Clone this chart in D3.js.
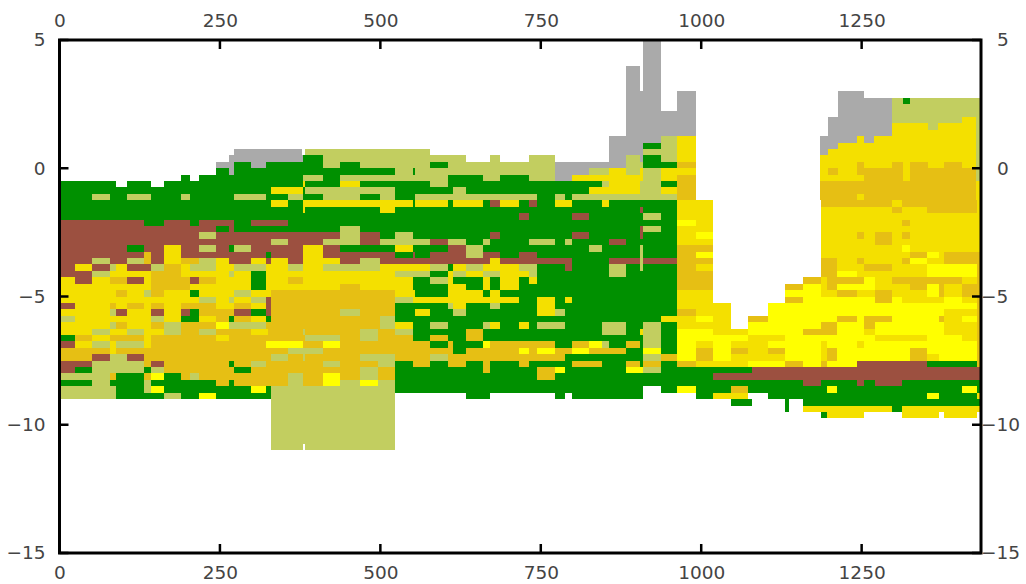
<!DOCTYPE html>
<html>
<head>
<meta charset="utf-8">
<script src="https://cdn.jsdelivr.net/npm/d3@7"></script>
<style>
  html, body { margin: 0; padding: 0; background: #fff; }
</style>
</head>
<body>
<div id="chart-area"></div>
<script>
// chart values
var xDomain = [0, 1436];
var yDomain = [-15, 5];
var xTicks = [0, 250, 500, 750, 1000, 1250];
var yTicks = [5, 0, -5, -10, -15];
var binWidth = 6.78;   // x units per bin
var rowHeight = 0.25;  // y units per row, row 0 starts at y = 5

var categories = ["G", "B", "K", "Y", "D", "L", "A"];
var categoryColors = ["#009000", "#9c5040", "#c2ce60", "#f4e000", "#e6bf14", "#ffff00", "#aaaaaa"];

// rows: [first row, last row, runs], a run is category + start bin, "." is a gap
var gridRows = [
  [0, 3, "A134.2 .138.3"],
  [4, 7, "A130.2 .133.4 A134.2 .138.3"],
  [8, 10, "A130.2 .138.3 A141.9 .146.3"],
  [11, 14, "A130.2 .146.3"],
  [15, 15, "A126.2 K138.3 Y141.9 .146.3"],
  [16, 16, "A126.2 G134.2 K138.3 Y141.9 .146.3"],
  [17, 17, "A40 .55.8 K56.5 .85.2 A126.2 K134.2 Y141.9 .146.3"],
  [18, 18, "A39 G56 K60.5 .93.4 K99 .101.3 K107.8 .113.8 A126.2 K130.2 A133.4 G134.2 K138.3 Y141.9 .146.3"],
  [19, 19, "A36 G40 A44 G47.5 K60.5 G64.5 K69 G85.2 K89.3 A113.8 K130.2 G134.2 D141.9 .146.3"],
  [20, 20, "G36 A39 G40 K77.2 G81.2 K81.7 A113.8 K121.8 Y126.3 K130.2 Y133.5 K134.2 Y138.3 .146.3"],
  [21, 21, "G28 .30 G32 K56 G60.5 K64.5 G89.3 K97.3 G101.3 K107.8 A113.8 Y117.8 K134.2 Y138.3 D141.9 .146.3"],
  [22, 22, "G0 .13 G15.5 .21 G24 Y56 G56.5 Y64.5 G69 K85.2 G89.3 K124.7 Y126.3 K133.5 G138.3 D141.9 .146.3"],
  [23, 23, "G0 Y48.5 G56 K56.5 G77.2 K90.4 G93.4 Y121.8 K133.5 Y138.3 D141.9 .146.3"],
  [24, 24, "G0 K7.5 G11.5 K15.5 G21 K28 G30 K40 G47.5 K52.5 G56 K60.5 G69 K73.7 G77.2 K81.7 G109.7 K113.8 G116.2 K117.8 D141.9 .146.3"],
  [25, 25, "G0 Y48.5 G52.5 Y56 G81.2 Y81.7 G89.3 Y90.4 G97.3 B99 Y101.3 G105.7 B107.8 G109.7 Y113.8 G117.8 Y124.7 G126.3 Y141.9 .146.3"],
  [26, 26, "G0 Y56 G56.5 Y73.7 G77.2 B133.5 G134.2 Y141.9 .146.3"],
  [27, 27, "G0 B105.7 G107.8 B117.8 G121.8 K134.2 G138.3 Y141.9 .146.3"],
  [28, 28, "B0 G19.5 B24 G30 B32 G40 B44 G52.5 L141.9 .146.3"],
  [29, 29, "B0 G36 B39 G40 K64.5 G69 B133.5 K134.2 G138.3 Y141.9 .146.3"],
  [30, 30, "B0 K32 B36 K64.5 B69 G73.7 K77.2 G81.2 B99 G101.3 B117.8 G121.8 B133.5 G134.2 Y141.9 .146.3"],
  [31, 31, "B0 K48.5 B52.5 K60.5 B69 K73.7 B85.2 K89.3 G93.4 K97.3 G99 K107.8 G113.8 K116.2 G117.8 B126.3 G130.3 Y141.9 .146.3"],
  [32, 32, "B0 G15.5 B19.5 Y24 B28 K32 B36 G39 K40 B44 Y56 B60.5 G64.5 Y77.2 G81.2 B89.3 K93.4 G97.3 K121.8 G124.7 K133.5 G134.2 D141.9 .146.3"],
  [33, 33, "B0 D19.5 B21 Y24 B28 G47.5 B48.5 Y56 B60.5 G77.2 B81.2 G81.7 B85.2 K93.4 B97.3 G101.3 B105.7 G109.7 K133.5 G134.2 D141.9 .146.3"],
  [34, 34, "B0 K7.5 B11.5 K15.5 D19.5 B21 Y24 D28 K32 Y36 B39 Y44 B47.5 Y48.5 B52.5 Y56 B64.5 K69 B73.7 Y99 B101.3 G117.8 B126.3 K133.5 B134.2 D141.9 .146.3"],
  [35, 35, "B0 Y3.5 B7.5 K11.5 Y13 B15.5 K21 D24 Y28 K30 Y36 K40 Y47.5 K52.5 Y56 K60.5 Y73.7 K85.2 G89.3 Y90.4 K93.4 Y97.3 K105.7 G109.7 B116.2 G117.8 K126.3 G130.3 K133.5 G134.2 D141.9 .146.3"],
  [36, 36, "B0 K7.5 Y11.5 D21 Y28 K39 Y40 G44 Y47.5 K77.2 G85.2 Y89.3 K90.4 Y93.4 K97.3 Y101.3 K107.8 G109.7 K126.3 G130.3 D141.9 .146.3"],
  [37, 37, "Y0 B3.5 Y7.5 D11.5 B15.5 Y19.5 D21 B30 D32 Y36 G44 Y47.5 D52.5 Y56 G81.2 K85.2 Y89.3 G90.4 Y97.3 G99 Y101.3 G105.7 Y107.8 G109.7 D141.9 .146.3"],
  [38, 38, "Y0 D21 Y30 G44 Y47.5 D64.5 Y69 G81.2 Y89.3 G93.4 Y97.3 G99 Y101.3 G105.7 D141.9 .146.3"],
  [39, 39, "Y0 D13 Y15.5 K19.5 D21 Y24 G30 Y32 K40 Y44 D48.5 Y77.2 G81.7 Y89.3 G97.3 Y99 G101.3 Y141.9 .146.3"],
  [40, 40, "Y0 K32 Y36 K39 Y40 K44 B47.5 D48.5 K77.2 Y81.2 G105.7 Y109.7 G113.8 Y116.2 G117.8 Y141.9 .146.3"],
  [41, 41, "B0 Y3.5 D11.5 Y13 D15.5 Y19.5 D21 Y24 D28 Y36 D40 Y44 B47.5 D48.5 G77.2 K89.3 Y90.4 G93.4 K99 G101.3 Y109.7 G113.8 Y141.9 .146.3"],
  [42, 42, "Y0 K11.5 B13 Y15.5 B21 Y24 B28 G30 D32 B40 G44 B47.5 D48.5 K64.5 D69 G77.2 Y81.7 G85.2 K90.4 G93.4 Y109.7 K113.8 G116.2 D141.9 .146.3"],
  [43, 43, "K0 Y3.5 K21 Y24 G28 Y32 D36 G39 D40 Y44 G47.5 D48.5 K73.7 G77.2 Y138.3 .146.3"],
  [44, 44, "Y0 K11.5 D13 Y15.5 D21 K24 D28 L36 K39 D47.5 K73.7 Y77.2 G81.2 K85.2 G89.3 K97.3 Y99 G101.3 Y105.7 G107.8 K109.7 G116.2 K124.7 G130.3 K134.2 G138.3 Y141.9 .146.3"],
  [45, 45, "Y0 K7.5 Y11.5 K15.5 Y19.5 K24 D28 K32 D36 Y44 D48 K56 D56.5 K69 D73.3 K77.2 G81.2 D93.4 G97.3 K124.7 G130.3 Y133.5 K134.2 G138.3 L141.9 .146.3"],
  [46, 46, "G0 D3.5 Y7.5 D11.5 Y19.5 D21 Y36 D39 K56.5 D64.5 K69 D73.3 G81.2 D85.2 G89.3 D93.4 G97.3 K134.2 G138.3 L141.9 .146.3"],
  [47, 47, "B0 Y3.5 K7.5 Y11.5 K13 Y19.5 D21 L47.5 D56 L60.5 D64.5 G85.2 D89.3 G90.4 L97.3 D99 G113.8 D117.8 L121.8 K124.7 G126.3 D130.3 G133.5 K134.2 G138.3 L141.9 .146.3"],
  [48, 48, "D0 Y11.5 D13 K52.5 D60.5 G90.4 D93.4 L105.7 D107.8 L109.7 D113.8 L117.8 D121.8 G130.3 L134.2 G138.3 L141.9 .146.3"],
  [49, 49, "D0 B7.5 K11.5 B15.5 D19.5 K48.5 D52.5 K56 D56.5 K69 D77.2 K85.2 D89.3 G116.2 K134.2 D138.3 L141.9 .146.3"],
  [50, 50, "B0 K7.5 D19.5 B21 D24 G39 D40 K44 D47.5 K60.5 D64.5 K73.3 G77.2 D81.2 G85.2 D89.3 G93.4 D97.3 G99 D105.7 G107.8 D117.8 G124.7 D130.3 G133.5 D134.2 G138.3 D141.9 .146.3"],
  [51, 51, "B0 G3.5 K7.5 G19.5 K21 D24 G40 D44 K69 D73.3 G77.2 D97.3 G99 D109.7 L113.8 G116.2 L130.3 K134.2 G138.3 .146.3"],
  [52, 52, "K0 D11.5 G13 D19.5 L21 G24 D28 K30 D32 K52.5 D56 L60.5 D64.5 K69 D73.3 G77.2 D109.7 G113.8 .146.3"],
  [53, 53, "G0 K7.5 G11.5 K19.5 G21 D36 G39 D40 K52.5 D56 L60.5 K64.5 L69 K73.3 G77.2 .146.3"],
  [54, 54, "K0 G13 K19.5 L21 G24 L44 G47.5 K48.5 G77.2 .134.2 G138.3 .146.3"],
  [55, 55, "K0 G13 K24 G28 L32 G36 K48.5 .77.2 G93.4 .99 G113.8 .116.2 G117.8 .134.2"],
  [56, 62, "K48.5 .77.2"],
  [63, 63, "K48.5 .56 K56.5 .77.2"],
  // right hand block, upper part
  [8, 8, "A178.9 .185"],
  [9, 9, "A178.9 K191.3 G193.8 K195.5 .211.8"],
  [10, 11, "A178.9 K191.3 .211.8"],
  [12, 12, "A176.6 K191.3 Y207.4 K210.7 .211.8"],
  [13, 13, "A176.6 Y191.3 K199.6 Y202 K210.7 .211.8"],
  [14, 14, "A176.6 Y191.3 K210.7 .211.8"],
  [15, 15, "A174.8 Y183.3 A185 Y187.1 K210.7 .211.8"],
  [16, 16, "A174.8 Y178.9 K210.7 .211.8"],
  [17, 17, "A174.8 Y176.6 K210.7 .211.8"],
  [18, 18, "Y174.8 K210.7 .211.8"],
  [19, 19, "Y174.8 D183.3 Y185 D191.3 Y193.8 D195.5 Y199.6 D203.4 Y207.4 K210.7 .211.8"],
  [20, 20, "Y174.8 D176.6 Y178.9 D183.3 Y193.8 D195.5 K210.7 .211.8"],
  [21, 21, "Y174.8 D185 Y193.8 D195.5 K210.7 .211.8"],
  [22, 23, "D174.8 Y210.7 .211.8"],
  [24, 24, "D174.8 Y183.3 D185 Y210.7 .211.8"]
];

// columns: [first bin, last bin, runs], a run is category + start row
var gridColumns = [
  [141.9, 146.3, "D24 Y25 L28 Y29 D32 Y39 D42 Y43 L45 D50 .51"],
  [146.3, 150.3, "Y25 L30 Y31 D32 L33 D34 Y35 D36 Y39 L43 Y44 L45 Y47 D48 Y50 .51"],
  [150.3, 154.3, "Y41 L46 Y50 .51"],
  [154.3, 158.3, "Y45 L46 Y47 D48 Y49 .51"],
  [158.3, 162.8, "D43 L44 Y46 L50 .51"],
  [162.8, 166.7, "L41 Y46 L47 D48 Y49 L50 .51"],
  [166.7, 171, "D38 L39 D40 L41 D50 .51"],
  [171, 175, "D37 L38 D45 L46 .51"],
  [175, 176.5, "D25 Y26 D34 Y37 L40 D44 L46 Y47 D50 .51"],
  [176.5, 178.8, "D25 Y26 D34 Y39 L40 D44 L46 D48 L50 .51"],
  [178.8, 183.2, "D25 Y26 L36 D37 L38 D39 L40 D43 L44 .51"],
  [183.2, 185, "D25 Y26 D30 Y31 D34 Y35 D37 L38 Y39 L40 Y47 L48 B50 .51"],
  [185, 187.4, "D25 Y26 D35 Y36 L37 Y39 L40 D43 Y45 L46 B50 .51"],
  [187.4, 191.3, "D25 Y26 D30 Y32 D35 Y36 D39 L41 D43 L44 Y46 L47 B50 .51"],
  [191.3, 193.7, "Y25 D26 Y27 D37 Y38 L40 Y46 L47 B50 .51"],
  [193.7, 195.5, "D25 Y26 D28 Y29 D30 Y31 L32 Y33 D34 Y35 D37 Y38 L41 Y46 L47 B50 .51"],
  [195.5, 199.5, "D25 Y26 D33 L34 Y35 D37 Y39 L41 Y46 L47 D48 B50 .51"],
  [199.5, 202.2, "D25 Y27 L33 Y34 L35 D37 L38 Y40 L41 Y49 G50 .51"],
  [202.2, 203.4, "D25 Y27 L35 D37 Y40 L41 D43 L44 G50 .51"],
  [203.4, 207.4, "D25 Y27 D33 L35 D37 Y38 L40 Y42 L46 G50 .51"],
  [207.4, 210.8, "D25 Y27 D33 L35 Y37 D38 Y40 L41 Y42 L43 Y44 L47 G50 .51"],
  [210.8, 211.8, "Y25 D33 .52"]
];

// rows under the right hand block, painted last
var lowerRows = [
  [51, 51, "G141.9 B159.1 .211.8"],
  [52, 52, "G141.9 B150.3 .211.8"],
  [53, 53, "G141.9 B171 G175 B183.2 G185 B187.4 G193.7 .211.8"],
  [54, 54, "G138.3 L141.9 G146.3 D154.3 G158.3 L176.5 G178.8 L207.4 G210.8 .211.8"],
  [55, 55, "G146.3 Y150.3 .158.3 G162.8 L199.5 G202.2 Y210.8 .211.8"],
  [56, 56, "G154.3 .159.1 G166.7 .167.7 G171 .211.8"],
  [57, 57, "G166.7 .167.7 Y171 G191.3 Y193.7 .211.8"],
  [58, 58, "G175 Y176.5 .185 Y193.7 .202.2 Y203.4 .210.8"]
];

var margin = { top: 40, right: 45, bottom: 31, left: 59.5 };
var width = 1026, height = 584;
var fontStack = '"DejaVu Sans", sans-serif';

var x = d3.scaleLinear().domain(xDomain).range([margin.left, width - margin.right]);
var y = d3.scaleLinear().domain(yDomain).range([height - margin.bottom, margin.top]);
var color = d3.scaleOrdinal().domain(categories).range(categoryColors);

var rowY = (r) => 5 - r * rowHeight;

// turn the run strings into cells
function parseRuns(str) {
  return str.split(" ").map((t) => ({ cat: t[0], at: +t.slice(1) }));
}

var cells = [];
function addRows(list) {
  list.forEach((row) => {
    var runs = parseRuns(row[2]);
    runs.forEach((run, i) => {
      if (run.cat === "." || i === runs.length - 1) return;
      cells.push({ cat: run.cat, b0: run.at, b1: runs[i + 1].at, r0: row[0], r1: row[1] + 1 });
    });
  });
}
addRows(gridRows);
gridColumns.forEach((col) => {
  var runs = parseRuns(col[2]);
  runs.forEach((run, i) => {
    if (run.cat === "." || i === runs.length - 1) return;
    cells.push({ cat: run.cat, b0: col[0], b1: col[1], r0: run.at, r1: runs[i + 1].at });
  });
});
addRows(lowerRows);

var svg = d3.select("#chart-area").append("svg")
  .attr("width", width)
  .attr("height", height)
  .style("display", "block");

// whole pixels, so neighbouring cells leave no hairline between them
var px = (b) => Math.round(x(b * binWidth));
var py = (r) => Math.round(y(rowY(r)));

svg.append("g")
  .style("filter", "blur(0.5px)")
  .selectAll("rect")
  .data(cells)
  .enter()
  .append("rect")
    .attr("x", (d) => px(d.b0))
    .attr("y", (d) => py(d.r0))
    .attr("width", (d) => px(d.b1) - px(d.b0))
    .attr("height", (d) => py(d.r1) - py(d.r0))
    .attr("fill", (d) => color(d.cat));

// axes give the labels, tick marks are drawn below
var fmt = d3.format("d");
var axisBottom = d3.axisBottom(x).tickValues(xTicks).tickFormat(fmt).tickSize(0).tickPadding(13);
var axisTop = d3.axisTop(x).tickValues(xTicks).tickFormat(fmt).tickSize(0).tickPadding(13);
var axisLeft = d3.axisLeft(y).tickValues(yTicks).tickFormat(fmt).tickSize(0).tickPadding(14);
var axisRight = d3.axisRight(y).tickValues(yTicks).tickFormat(fmt).tickSize(0).tickPadding(16);

function styleAxis(g) {
  g.select(".domain").remove();
  g.selectAll("line").remove();
  g.selectAll("text").attr("fill", "#444").style("font-family", fontStack).style("font-size", "18.5px");
}

svg.append("g").attr("transform", "translate(0," + (height - margin.bottom) + ")").call(axisBottom).call(styleAxis);
svg.append("g").attr("transform", "translate(0," + margin.top + ")").call(axisTop).call(styleAxis);
svg.append("g").attr("transform", "translate(" + margin.left + ",0)").call(axisLeft).call(styleAxis);
var rightAxis = svg.append("g").attr("transform", "translate(" + (width - margin.right) + ",0)").call(axisRight).call(styleAxis);
// the minus sign hangs in front of the digits on the right side
rightAxis.selectAll("text").attr("dx", (d) => d < 0 ? -16 : 0);

// inward tick marks on all four sides
var tickLen = 9;
var ticks = svg.append("g").attr("stroke", "#000").attr("stroke-width", 2.5);

[y.range()[0], y.range()[1]].forEach((edge, i) => {
  ticks.selectAll("line.x" + i)
    .data(xTicks)
    .enter()
    .append("line")
      .attr("x1", (d) => x(d))
      .attr("x2", (d) => x(d))
      .attr("y1", edge)
      .attr("y2", i === 0 ? edge - tickLen : edge + tickLen);
});
[x.range()[0], x.range()[1]].forEach((edge, i) => {
  ticks.selectAll("line.y" + i)
    .data(yTicks)
    .enter()
    .append("line")
      .attr("y1", (d) => y(d))
      .attr("y2", (d) => y(d))
      .attr("x1", edge)
      .attr("x2", i === 0 ? edge + tickLen : edge - tickLen);
});

svg.append("rect")
  .attr("x", margin.left)
  .attr("y", margin.top)
  .attr("width", width - margin.right - margin.left)
  .attr("height", height - margin.bottom - margin.top)
  .attr("fill", "none")
  .attr("stroke", "#000")
  .attr("stroke-width", 3);
</script>
</body>
</html>
